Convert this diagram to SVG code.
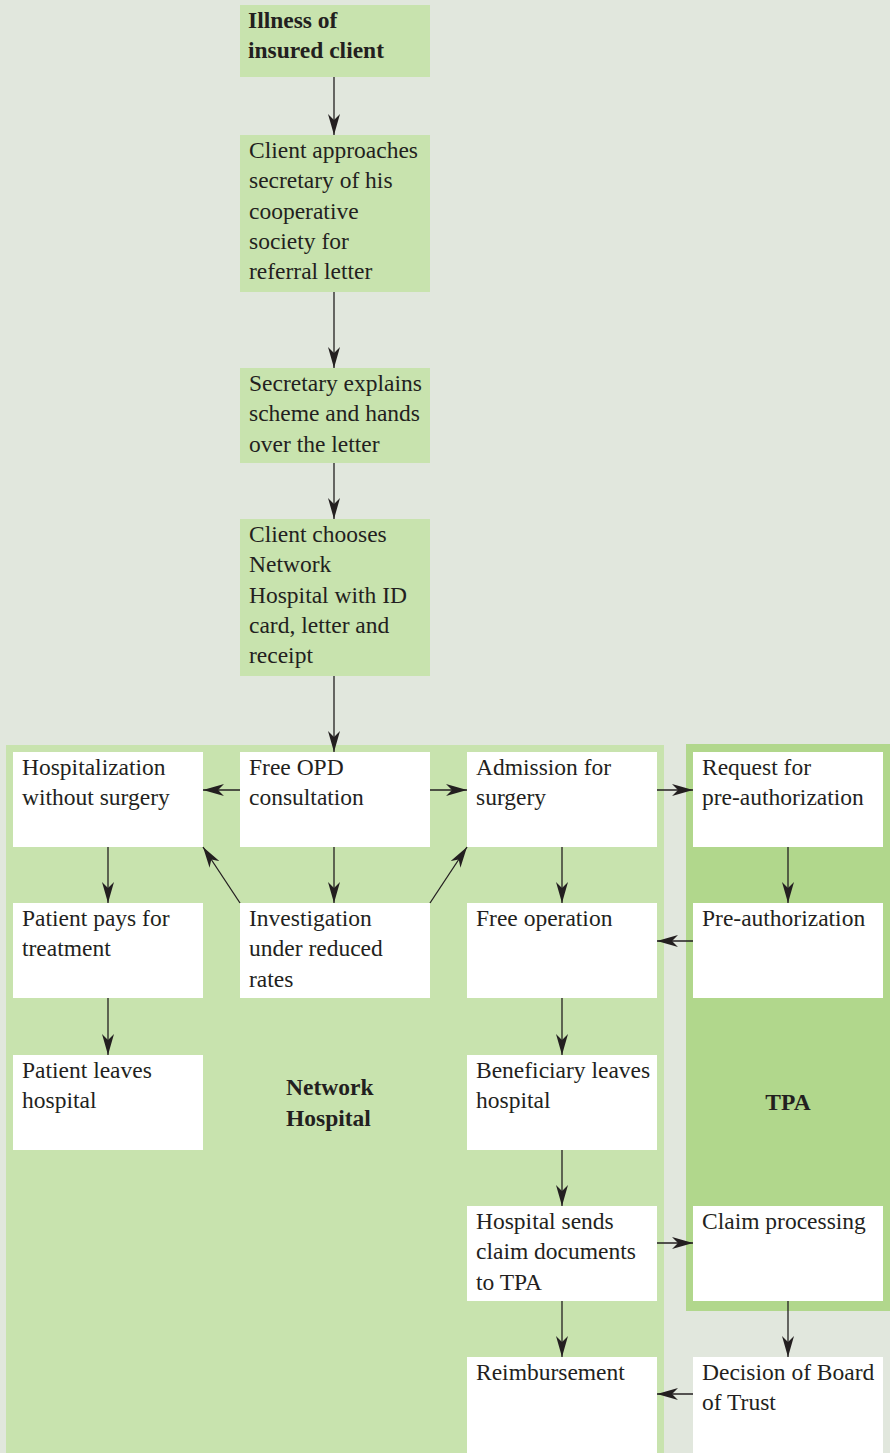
<svg xmlns="http://www.w3.org/2000/svg" width="890" height="1453" viewBox="0 0 890 1453">
<style>
.bg{fill:#e1e7dd}
.nh{fill:#c8e3ae}
.tpa{fill:#b1d78c}
.gbox{fill:#c8e3ae}
.wbox{fill:#ffffff}
text{font-family:"Liberation Serif","Times New Roman",serif;font-size:23.5px;fill:#231f20}
.b{font-weight:bold}
.c line{stroke:#231f20;stroke-width:1.3;fill:none}
</style>
<defs>
<marker id="ah" markerUnits="userSpaceOnUse" markerWidth="22" markerHeight="12" refX="21" refY="6" orient="auto">
<path d="M0,0 L21,6 L0,12 L6,6 Z" fill="#231f20"/>
</marker>
</defs>
<rect class="bg" x="0" y="0" width="890" height="1453"/>
<g id="region-network">
<rect class="nh" x="6" y="745" width="658" height="708"/>
<text class="b" x="286" y="1095">Network</text>
<text class="b" x="286" y="1126">Hospital</text>
</g>
<g id="region-tpa">
<rect class="tpa" x="686" y="744" width="204" height="567"/>
<text class="b" x="788" y="1110" text-anchor="middle">TPA</text>
</g>
<g id="n-illness"><rect class="gbox" x="240" y="5" width="190" height="72"/><text class="b" x="248" y="28">Illness of<tspan x="248" dy="30.3">insured client</tspan></text></g>
<g id="n-approach"><rect class="gbox" x="240" y="135" width="190" height="157"/><text x="249" y="158">Client approaches<tspan x="249" dy="30.3">secretary of his</tspan><tspan x="249" dy="30.3">cooperative</tspan><tspan x="249" dy="30.3">society for</tspan><tspan x="249" dy="30.3">referral letter</tspan></text></g>
<g id="n-secretary"><rect class="gbox" x="240" y="368" width="190" height="95"/><text x="249" y="391">Secretary explains<tspan x="249" dy="30.3">scheme and hands</tspan><tspan x="249" dy="30.3">over the letter</tspan></text></g>
<g id="n-chooses"><rect class="gbox" x="240" y="519" width="190" height="157"/><text x="249" y="542">Client chooses<tspan x="249" dy="30.3">Network</tspan><tspan x="249" dy="30.3">Hospital with ID</tspan><tspan x="249" dy="30.3">card, letter and</tspan><tspan x="249" dy="30.3">receipt</tspan></text></g>
<g id="n-hosp-nosurg"><rect class="wbox" x="13" y="752" width="190" height="95"/><text x="22" y="775">Hospitalization<tspan x="22" dy="30.3">without surgery</tspan></text></g>
<g id="n-opd"><rect class="wbox" x="240" y="752" width="190" height="95"/><text x="249" y="775">Free OPD<tspan x="249" dy="30.3">consultation</tspan></text></g>
<g id="n-admission"><rect class="wbox" x="467" y="752" width="190" height="95"/><text x="476" y="775">Admission for<tspan x="476" dy="30.3">surgery</tspan></text></g>
<g id="n-request"><rect class="wbox" x="693" y="752" width="190" height="95"/><text x="702" y="775">Request for<tspan x="702" dy="30.3">pre-authorization</tspan></text></g>
<g id="n-pays"><rect class="wbox" x="13" y="903" width="190" height="95"/><text x="22" y="926">Patient pays for<tspan x="22" dy="30.3">treatment</tspan></text></g>
<g id="n-investigation"><rect class="wbox" x="240" y="903" width="190" height="95"/><text x="249" y="926">Investigation<tspan x="249" dy="30.3">under reduced</tspan><tspan x="249" dy="30.3">rates</tspan></text></g>
<g id="n-operation"><rect class="wbox" x="467" y="903" width="190" height="95"/><text x="476" y="926">Free operation</text></g>
<g id="n-preauth"><rect class="wbox" x="693" y="903" width="190" height="95"/><text x="702" y="926">Pre-authorization</text></g>
<g id="n-patient-leaves"><rect class="wbox" x="13" y="1055" width="190" height="95"/><text x="22" y="1078">Patient leaves<tspan x="22" dy="30.3">hospital</tspan></text></g>
<g id="n-benef-leaves"><rect class="wbox" x="467" y="1055" width="190" height="95"/><text x="476" y="1078">Beneficiary leaves<tspan x="476" dy="30.3">hospital</tspan></text></g>
<g id="n-sends"><rect class="wbox" x="467" y="1206" width="190" height="95"/><text x="476" y="1229">Hospital sends<tspan x="476" dy="30.3">claim documents</tspan><tspan x="476" dy="30.3">to TPA</tspan></text></g>
<g id="n-claim"><rect class="wbox" x="693" y="1206" width="190" height="95"/><text x="702" y="1229">Claim processing</text></g>
<g id="n-reimb"><rect class="wbox" x="467" y="1357" width="190" height="96"/><text x="476" y="1380">Reimbursement</text></g>
<g id="n-decision"><rect class="wbox" x="693" y="1357" width="190" height="96"/><text x="702" y="1380">Decision of Board<tspan x="702" dy="30.3">of Trust</tspan></text></g>
<g id="connectors" class="c">
<line x1="334" y1="77" x2="334" y2="135" marker-end="url(#ah)"/>
<line x1="334" y1="292" x2="334" y2="368" marker-end="url(#ah)"/>
<line x1="334" y1="463" x2="334" y2="519" marker-end="url(#ah)"/>
<line x1="334" y1="676" x2="334" y2="752" marker-end="url(#ah)"/>
<line x1="240" y1="790" x2="203" y2="790" marker-end="url(#ah)"/>
<line x1="430" y1="790" x2="467" y2="790" marker-end="url(#ah)"/>
<line x1="657" y1="790" x2="693" y2="790" marker-end="url(#ah)"/>
<line x1="108" y1="847" x2="108" y2="903" marker-end="url(#ah)"/>
<line x1="334" y1="847" x2="334" y2="903" marker-end="url(#ah)"/>
<line x1="562" y1="847" x2="562" y2="903" marker-end="url(#ah)"/>
<line x1="788" y1="847" x2="788" y2="903" marker-end="url(#ah)"/>
<line x1="240" y1="903" x2="203" y2="847" marker-end="url(#ah)"/>
<line x1="430" y1="903" x2="467" y2="847" marker-end="url(#ah)"/>
<line x1="693" y1="941" x2="657" y2="941" marker-end="url(#ah)"/>
<line x1="108" y1="998" x2="108" y2="1055" marker-end="url(#ah)"/>
<line x1="562" y1="998" x2="562" y2="1055" marker-end="url(#ah)"/>
<line x1="562" y1="1150" x2="562" y2="1206" marker-end="url(#ah)"/>
<line x1="657" y1="1243" x2="693" y2="1243" marker-end="url(#ah)"/>
<line x1="562" y1="1301" x2="562" y2="1357" marker-end="url(#ah)"/>
<line x1="788" y1="1301" x2="788" y2="1357" marker-end="url(#ah)"/>
<line x1="693" y1="1394" x2="657" y2="1394" marker-end="url(#ah)"/>
</g>
</svg>
